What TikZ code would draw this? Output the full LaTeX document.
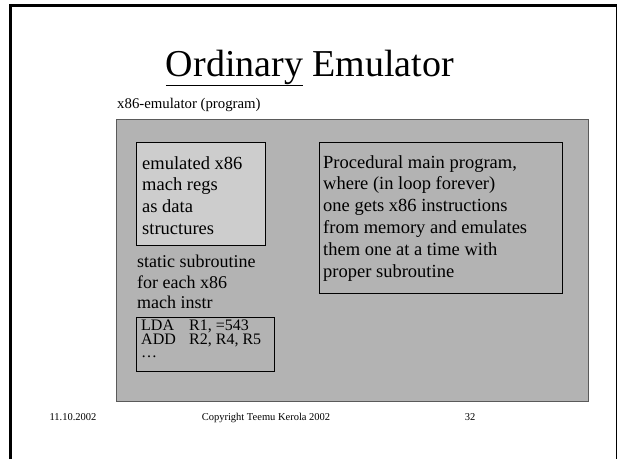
\documentclass[tikz,border=0pt]{standalone}
\usepackage{fontspec}
\setmainfont{Liberation Serif}
\definecolor{emugray}{HTML}{B3B3B3}
\definecolor{reggray}{HTML}{CDCDCD}
\definecolor{edgegray}{HTML}{5A5A5A}
\begin{document}
\begin{tikzpicture}[x=1pt,y=-1pt,
  box/.style={draw=black,line width=0.8pt,anchor=north west,inner sep=0pt},
  txt/.style={anchor=north west,inner sep=0pt,align=left},
  body/.style={font=\fontsize{18.5}{21.8}\selectfont},
  foot/.style={font=\fontsize{10.5}{12}\selectfont,anchor=base,inner sep=0pt}]
\useasboundingbox (0,0) rectangle (618,459);
\fill[white] (0,0) rectangle (618,459);
% slide frame
\coordinate (fbl) at (10.5,459);
\coordinate (ftl) at (10.5,5);
\coordinate (ftr) at (616.5,5);
\coordinate (fbr) at (616.5,459);
\draw[line width=3pt] (fbl) -- (ftl) -- (ftr);
\draw[line width=1.6pt] (ftr) -- (fbr);
% title
\node[anchor=base,inner sep=0pt,font=\fontsize{38}{40}\selectfont] (title) at (310,76) {\underline{Ordinary} Emulator};
\node[anchor=base west,inner sep=0pt,font=\fontsize{14.8}{18}\selectfont] (lbl) at (117,108) {x86-emulator (program)};
% emulator box
\node[box,draw=edgegray,line width=1.2pt,fill=emugray,minimum width=472pt,minimum height=282pt] (emu) at (116,119) {};
\node[box,fill=reggray,minimum width=129pt,minimum height=103pt] (regs) at (136,142) {};
\node[txt,body] (regstext) at (142,156) {emulated x86\\mach regs\\as data\\structures};
\node[box,minimum width=243pt,minimum height=151pt] (main) at (319,142) {};
\node[txt,body] (maintext) at (323,155) {Procedural main program,\\where (in loop forever)\\one gets x86 instructions\\from memory and emulates\\them one at a time with\\proper subroutine};
\node[txt,body,font=\fontsize{18}{20.5}\selectfont] (stattext) at (137,255) {static subroutine\\for each x86\\mach instr};
\node[box,minimum width=138pt,minimum height=54pt] (code) at (136,317) {};
\node[txt,font=\fontsize{16}{13.5}\selectfont] (codetext) at (141,320) {\makebox[48pt][l]{LDA}R1, =543\\\makebox[48pt][l]{ADD}R2, R4, R5\\\ldots};
% footer
\node[foot] (date) at (73,420) {11.10.2002};
\node[foot] (copy) at (266,420) {Copyright Teemu Kerola 2002};
\node[foot] (page) at (470,420) {32};
\end{tikzpicture}
\end{document}
